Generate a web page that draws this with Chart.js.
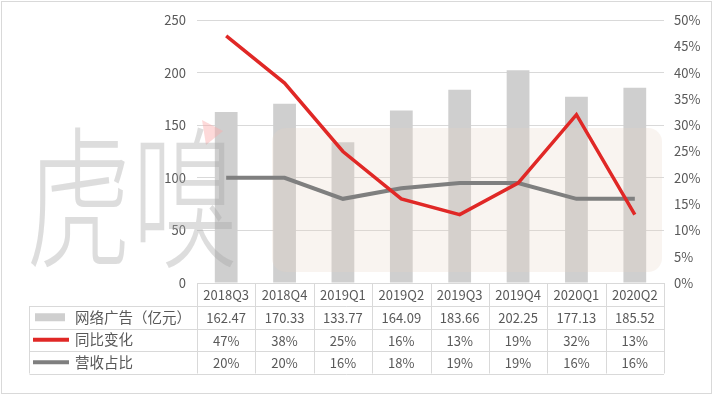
<!DOCTYPE html>
<html lang="zh">
  <head>
    <meta charset="UTF-8">
    <script src="https://cdn.jsdelivr.net/npm/chart.js"></script>
    <title>网络广告</title>
    <style>
      html, body{margin: 0; padding: 0; background: #fff;}
      #wrap{width: 714px; height: 395px;}
    </style>
  </head>
  <body>
    <div id="wrap"><canvas id="myChart" width="714" height="395"></canvas></div>
    <script>
      // 数据
      const quarters = ['2018Q3', '2018Q4', '2019Q1', '2019Q2', '2019Q3', '2019Q4', '2020Q1', '2020Q2'];
      const adRevenue = [162.47, 170.33, 133.77, 164.09, 183.66, 202.25, 177.13, 185.52];
      const yoyChange = [47, 38, 25, 16, 13, 19, 32, 13];
      const revenueShare = [20, 20, 16, 18, 19, 19, 16, 16];
      const seriesNames = ['网络广告（亿元）', '同比变化', '营收占比'];

      const FONT = '"Noto Sans CJK SC", "Noto Sans", sans-serif';
      const TXT = '#595959';
      const LINE = '#d9d9d9';
      const BAR = '#cfcfcf';
      const RED = '#e02826';
      const GRAY = '#7f7f7f';

      // 水印（画在柱子之上、折线之下）
      const watermark = {
        id: 'watermark',
        afterDatasetDraw(chart, args){
          if(args.index !== 2) return;
          const ctx = chart.ctx;
          ctx.save();
          ctx.fillStyle = 'rgba(232,212,196,0.25)';
          ctx.beginPath();
          ctx.roundRect(272, 128, 390, 144, 14);
          ctx.fill();
          ctx.fillStyle = 'rgba(250,170,170,0.45)';
          ctx.beginPath();
          ctx.moveTo(202, 120); ctx.lineTo(223, 131); ctx.lineTo(206, 145);
          ctx.closePath(); ctx.fill();
          ctx.translate(132, 198);
          ctx.scale(1, 1.45);
          ctx.font = '300 106px ' + FONT;
          ctx.textAlign = 'center';
          ctx.textBaseline = 'middle';
          ctx.fillStyle = 'rgba(165,165,165,0.38)';
          ctx.fillText('虎嗅', 0, 0);
          ctx.restore();
        }
      };

      // 数据表
      const dataTable = {
        id: 'dataTable',
        afterDraw(chart){
          const ctx = chart.ctx;
          const x = chart.scales.x;
          const area = chart.chartArea;
          const step = (area.right - area.left) / quarters.length;
          const rows = [area.bottom, area.bottom + 23, area.bottom + 45.5, area.bottom + 68, area.bottom + 90.5];
          const tableLeft = 29.5;
          ctx.save();
          ctx.strokeStyle = LINE;
          ctx.lineWidth = 1;
          ctx.beginPath();
          // 横线
          ctx.moveTo(area.left, Math.round(rows[0]) + 0.5);
          ctx.lineTo(area.right, Math.round(rows[0]) + 0.5);
          for(let r = 1; r < rows.length; r++){
            ctx.moveTo(tableLeft, Math.round(rows[r]) + 0.5);
            ctx.lineTo(area.right, Math.round(rows[r]) + 0.5);
          }
          // 竖线
          for(let i = 0; i <= quarters.length; i++){
            const px = Math.round(area.left + i * step) + 0.5;
            ctx.moveTo(px, rows[0]);
            ctx.lineTo(px, rows[4]);
          }
          ctx.moveTo(tableLeft, rows[1]);
          ctx.lineTo(tableLeft, rows[4]);
          ctx.stroke();

          ctx.font = '13px ' + FONT;
          ctx.fillStyle = TXT;
          ctx.textAlign = 'center';
          ctx.textBaseline = 'middle';
          const mid = r => (rows[r] + rows[r + 1]) / 2 + 1;
          quarters.forEach((q, i) => {
            const cx = x.getPixelForValue(i);
            ctx.fillText(q, cx, mid(0));
            ctx.fillText(adRevenue[i].toFixed(2), cx, mid(1));
            ctx.fillText(yoyChange[i] + '%', cx, mid(2));
            ctx.fillText(revenueShare[i] + '%', cx, mid(3));
          });

          // 图例
          ctx.fillStyle = BAR;
          ctx.fillRect(35, mid(1) - 5, 30, 8);
          ctx.lineWidth = 4;
          ctx.strokeStyle = RED;
          ctx.beginPath(); ctx.moveTo(33, mid(2) - 1); ctx.lineTo(69, mid(2) - 1); ctx.stroke();
          ctx.strokeStyle = GRAY;
          ctx.beginPath(); ctx.moveTo(33, mid(3) - 1); ctx.lineTo(69, mid(3) - 1); ctx.stroke();
          ctx.font = '14.5px ' + FONT;
          ctx.fillStyle = TXT;
          ctx.textAlign = 'left';
          seriesNames.forEach((n, i) => ctx.fillText(n, 75, mid(i + 1) - 1));

          // 外框
          ctx.strokeStyle = LINE;
          ctx.lineWidth = 1;
          ctx.strokeRect(1.5, 1.5, 710, 392);
          ctx.restore();
        }
      };

      new Chart(document.getElementById('myChart'), {
        data: {
          labels: quarters,
          datasets: [
            {
              type: 'line', label: seriesNames[2], data: revenueShare, yAxisID: 'y1',
              borderColor: GRAY, borderWidth: 4, pointRadius: 0, tension: 0, order: 1
            },
            {
              type: 'line', label: seriesNames[1], data: yoyChange, yAxisID: 'y1',
              borderColor: RED, borderWidth: 3.5, pointRadius: 0, tension: 0, order: 0
            },
            {
              type: 'bar', label: seriesNames[0], data: adRevenue, yAxisID: 'y',
              backgroundColor: BAR, categoryPercentage: 1, barPercentage: 0.39, order: 2
            }
          ]
        },
        options: {
          responsive: false,
          animation: false,
          layout: {padding: {top: 20, bottom: 112, left: 0, right: 0}},
          plugins: {legend: {display: false}, tooltip: {enabled: false}},
          scales: {
            x: {display: false, offset: true},
            y: {
              position: 'left', min: 0, max: 250,
              afterFit: s => { s.width = 197; },
              ticks: {stepSize: 50, padding: 11, color: TXT, font: {family: FONT, size: 13}},
              grid: {color: LINE, drawTicks: false},
              border: {display: false}
            },
            y1: {
              position: 'right', min: 0, max: 50,
              afterFit: s => { s.width = 50; },
              ticks: {stepSize: 5, padding: 10, color: TXT, font: {family: FONT, size: 13}, callback: v => v + '%'},
              grid: {display: false, drawTicks: false},
              border: {display: false}
            }
          }
        },
        plugins: [watermark, dataTable]
      });
    </script>
  </body>
</html>
